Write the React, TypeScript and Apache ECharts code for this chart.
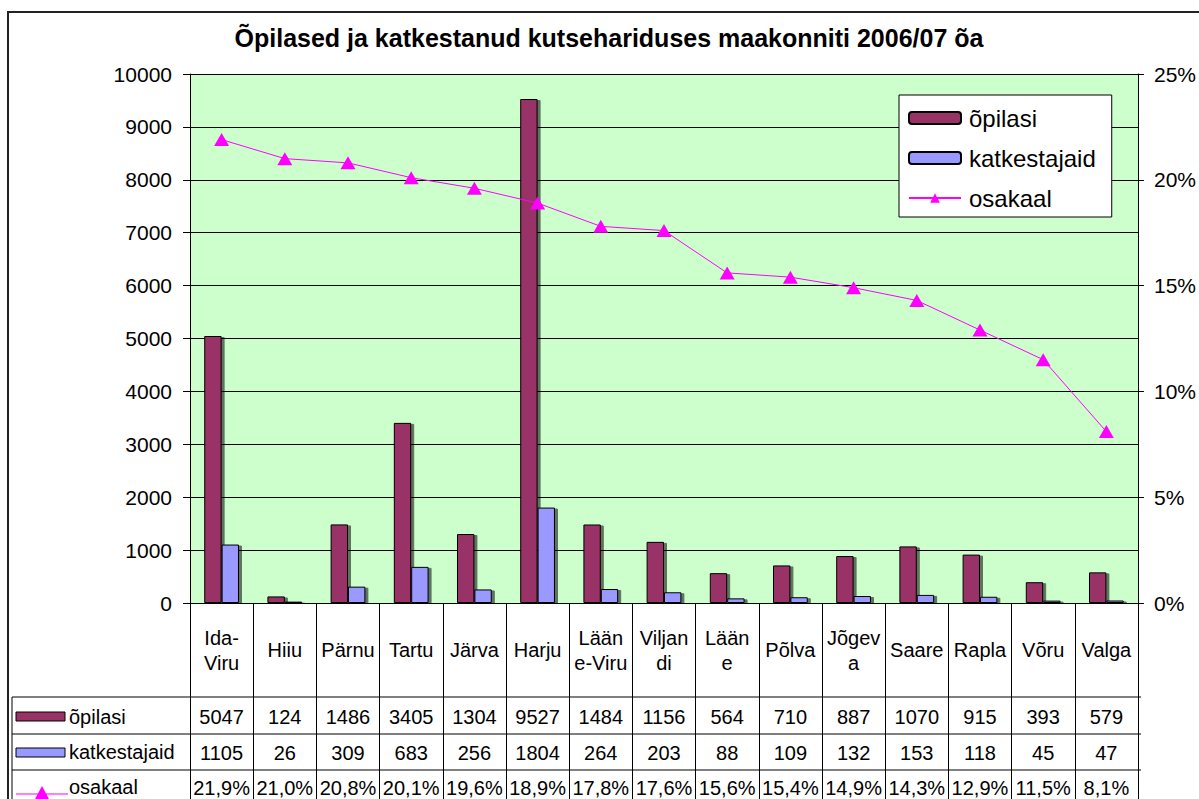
import React, { useEffect, useRef } from "react";
import * as echarts from "echarts";

const categories = ["Ida-Viru", "Hiiu", "Pärnu", "Tartu", "Järva", "Harju", "Lääne-Viru", "Viljandi", "Lääne", "Põlva", "Jõgeva", "Saare", "Rapla", "Võru", "Valga"];
const categoryLabels = ["Ida-\nViru", "Hiiu", "Pärnu", "Tartu", "Järva", "Harju", "Lään\ne-Viru", "Viljan\ndi", "Lään\ne", "Põlva", "Jõgev\na", "Saare", "Rapla", "Võru", "Valga"];
const opilasi = [5047, 124, 1486, 3405, 1304, 9527, 1484, 1156, 564, 710, 887, 1070, 915, 393, 579];
const katkestajaid = [1105, 26, 309, 683, 256, 1804, 264, 203, 88, 109, 132, 153, 118, 45, 47];
const osakaal = [21.9, 21.0, 20.8, 20.1, 19.6, 18.9, 17.8, 17.6, 15.6, 15.4, 14.9, 14.3, 12.9, 11.5, 8.1];
const seriesNames = ["õpilasi", "katkestajaid", "osakaal"];
const title = "Õpilased ja katkestanud kutsehariduses maakonniti 2006/07 õa";

const FONT = "Liberation Sans, Arial, sans-serif";
const C1 = "#993366";
const C2 = "#9999FF";
const C3 = "#FF00FF";

function tableAxis(data: string[], margin: number) {
  return {
    type: "category",
    data,
    gridIndex: 0,
    position: "bottom",
    axisLine: { show: false },
    axisTick: { show: false },
    splitLine: { show: false },
    axisLabel: {
      interval: 0,
      margin,
      verticalAlign: "middle",
      fontSize: 20,
      color: "#000",
      fontFamily: FONT,
    },
  };
}

export default function App() {
  const ref = useRef<HTMLDivElement>(null);
  useEffect(() => {
    if (!ref.current) return;
    const chart = echarts.init(ref.current, null, { renderer: "svg" });
    const pct = (v: number) => v.toFixed(1).replace(".", ",") + "%";
    const option: any = {
      animation: false,
      backgroundColor: "#fff",
      title: {
        text: title,
        left: 609,
        top: 25,
        padding: 0,
        textAlign: "center",
        textStyle: { fontSize: 25, fontWeight: "bold", color: "#000", fontFamily: FONT },
      },
      legend: {
        data: seriesNames,
        orient: "vertical",
        left: 899,
        top: 95,
        backgroundColor: "#fff",
        borderColor: "#000",
        borderWidth: 1,
        borderRadius: 0,
        padding: [11, 16, 7, 9],
        itemWidth: 52,
        itemHeight: 12,
        itemGap: 16,
        textStyle: { fontSize: 24, lineHeight: 24, color: "#000", fontFamily: FONT, padding: [0, 0, 0, 3] },
      },
      grid: {
        left: 190,
        right: 58,
        top: 74,
        bottom: 196,
        show: true,
        backgroundColor: "#CCFFCC",
        borderWidth: 0,
        containLabel: false,
      },
      xAxis: [
        {
          type: "category",
          data: categoryLabels,
          gridIndex: 0,
          position: "bottom",
          axisLine: { show: true, lineStyle: { color: "#000", width: 1 } },
          axisTick: { show: true, length: 196, lineStyle: { color: "#000", width: 1 } },
          splitLine: { show: false },
          axisLabel: {
            interval: 0,
            margin: 47,
            verticalAlign: "middle",
            fontSize: 20,
            lineHeight: 25,
            color: "#000",
            fontFamily: FONT,
          },
        },
        tableAxis(opilasi.map(String), 114),
        tableAxis(katkestajaid.map(String), 150),
        tableAxis(osakaal.map(pct), 185),
      ],
      yAxis: [
        {
          type: "value",
          min: 0,
          max: 10000,
          interval: 1000,
          position: "left",
          axisLine: { show: true, lineStyle: { color: "#000", width: 1 } },
          axisTick: { show: true, length: 7, lineStyle: { color: "#000" } },
          axisLabel: {
            fontSize: 21,
            margin: 18,
            color: "#000",
            fontFamily: FONT,
            formatter: (v: number) => String(v),
          },
          splitLine: { show: true, lineStyle: { color: "#000", width: 1 } },
        },
        {
          type: "value",
          min: 0,
          max: 25,
          interval: 5,
          position: "right",
          axisLine: { show: true, lineStyle: { color: "#000", width: 1 } },
          axisTick: { show: true, length: 6, lineStyle: { color: "#000" } },
          axisLabel: { fontSize: 21, margin: 16, color: "#000", fontFamily: FONT, formatter: "{value}%" },
          splitLine: { show: false },
        },
      ],
      series: [
        {
          name: seriesNames[0],
          type: "bar",
          data: opilasi,
          xAxisIndex: 0,
          yAxisIndex: 0,
          barGap: "0%",
          barCategoryGap: "45%",
          itemStyle: {
            color: C1,
            borderColor: "#000",
            borderWidth: 1,
            shadowColor: "rgba(0,0,0,0.55)",
            shadowOffsetX: 3,
            shadowOffsetY: 1,
            shadowBlur: 1,
          },
        },
        {
          name: seriesNames[1],
          type: "bar",
          data: katkestajaid,
          xAxisIndex: 0,
          yAxisIndex: 0,
          barGap: "0%",
          barCategoryGap: "45%",
          itemStyle: {
            color: C2,
            borderColor: "#000",
            borderWidth: 1,
            shadowColor: "rgba(0,0,0,0.55)",
            shadowOffsetX: 3,
            shadowOffsetY: 1,
            shadowBlur: 1,
          },
        },
        {
          name: seriesNames[2],
          type: "line",
          data: osakaal,
          xAxisIndex: 0,
          yAxisIndex: 1,
          symbol: "triangle",
          symbolSize: [15, 13],
          showSymbol: true,
          color: C3,
          lineStyle: { color: C3, width: 1 },
          itemStyle: { color: C3 },
          z: 5,
        },
      ],
      graphic: [
        {
          type: "rect",
          shape: { x: 8, y: 12, width: 1200, height: 800 },
          style: { fill: "none", stroke: "#222", lineWidth: 2 },
          silent: true,
          z: 100,
        },
        { type: "line", shape: { x1: 12, y1: 697, x2: 1141, y2: 697 }, style: { stroke: "#000", lineWidth: 1 }, z: 100 },
        { type: "line", shape: { x1: 12, y1: 734, x2: 1141, y2: 734 }, style: { stroke: "#000", lineWidth: 1 }, z: 100 },
        { type: "line", shape: { x1: 12, y1: 770, x2: 1141, y2: 770 }, style: { stroke: "#000", lineWidth: 1 }, z: 100 },
        { type: "line", shape: { x1: 12, y1: 697, x2: 12, y2: 799 }, style: { stroke: "#000", lineWidth: 1 }, z: 100 },
        {
          type: "rect",
          shape: { x: 16, y: 712, width: 49, height: 9 },
          style: { fill: C1, stroke: "#000", lineWidth: 1 },
          z: 100,
        },
        {
          type: "text",
          x: 69,
          y: 717,
          style: { text: seriesNames[0], fontSize: 20, fontFamily: FONT, fill: "#000", verticalAlign: "middle" },
          z: 100,
        },
        {
          type: "rect",
          shape: { x: 16, y: 748, width: 49, height: 9 },
          style: { fill: C2, stroke: "#000", lineWidth: 1 },
          z: 100,
        },
        {
          type: "text",
          x: 69,
          y: 752,
          style: { text: seriesNames[1], fontSize: 20, fontFamily: FONT, fill: "#000", verticalAlign: "middle" },
          z: 100,
        },
        { type: "line", shape: { x1: 16, y1: 794, x2: 68, y2: 794 }, style: { stroke: C3, lineWidth: 1 }, z: 100 },
        {
          type: "polygon",
          shape: { points: [[35, 799], [49, 799], [42, 786]] },
          style: { fill: C3 },
          z: 100,
        },
        {
          type: "text",
          x: 69,
          y: 787,
          style: { text: seriesNames[2], fontSize: 20, fontFamily: FONT, fill: "#000", verticalAlign: "middle" },
          z: 100,
        },
      ],
    };
    chart.setOption(option);
    return () => chart.dispose();
  }, []);
  return (
    <div
      ref={ref}
      style={{ position: "fixed", left: 0, top: 0, width: 1199, height: 799, background: "#fff" }}
    />
  );
}
